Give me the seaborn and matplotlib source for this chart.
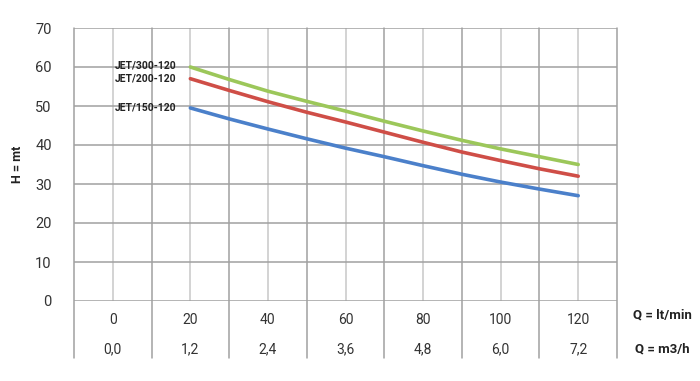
import numpy as np
import pandas as pd
import seaborn as sns
import matplotlib.pyplot as plt

# curve data
q_lmin = [20, 30, 40, 50, 60, 70, 80, 90, 100, 110, 120]
h_300 = [60.0, 56.8, 53.8, 51.2, 48.7, 46.1, 43.6, 41.2, 39.0, 37.0, 35.0]
h_200 = [57.0, 54.0, 51.1, 48.4, 45.9, 43.3, 40.7, 38.2, 36.0, 33.9, 32.0]
h_150 = [49.5, 46.7, 44.1, 41.6, 39.2, 37.0, 34.7, 32.5, 30.5, 28.7, 27.0]

models = ["JET/300-120", "JET/200-120", "JET/150-120"]
colors = ["#9CC75A", "#CF4E47", "#4B80CA"]

# table below the x axis
lmin_ticks = [0, 20, 40, 60, 80, 100, 120]
m3h_labels = ["0,0", "1,2", "2,4", "3,6", "4,8", "6,0", "7,2"]
y_ticks = [0, 10, 20, 30, 40, 50, 60, 70]

df = pd.concat([
    pd.DataFrame({"Q": q_lmin, "H": h, "model": m})
    for m, h in zip(models, [h_300, h_200, h_150])
])

sns.set_style("white")
plt.rcParams['font.family'] = ['Roboto', 'DejaVu Sans']

fig = plt.figure(figsize=(7, 3.81), dpi=100)
ax = fig.add_axes([74 / 700, 1 - 301 / 381, 543 / 700, 273 / 381])

grid_dark = "#A0A0A0"
grid_light = "#C8C8C8"

# light verticals at the flow labels, dark ones between them
for x in lmin_ticks:
    ax.axvline(x, color=grid_light, lw=1.1, zorder=0)
tab_bottom = -57 / 273
for x in np.arange(-10, 131, 20):
    ax.plot([x, x], [tab_bottom, 1], color=grid_dark, lw=1.1,
            transform=ax.get_xaxis_transform(), clip_on=False, zorder=0)
for y in y_ticks:
    ax.axhline(y, color=grid_dark, lw=1.1, zorder=0)

sns.lineplot(data=df, x="Q", y="H", hue="model", palette=colors,
             linewidth=2.6, legend=False, ax=ax)

for m, h, dy in zip(models, [h_300, h_200, h_150], [0.3, 0, 0]):
    ax.text(q_lmin[0] - 3.5, h[0] + dy, m, ha="right", va="center",
            fontsize=7.5, fontweight="bold", color="#222222")

ax.set_xlim(-10, 130)
ax.set_ylim(0, 70)
ax.set_yticks(y_ticks)
ax.set_yticklabels([str(v) for v in y_ticks], fontsize=10.5, color="#333333")
ax.tick_params(axis="y", length=0, pad=16)
ax.set_xticks([])
ax.set_xlabel("")
ax.set_ylabel("H = mt", fontsize=9, fontweight="bold", color="#222222", labelpad=8)
for s in ax.spines.values():
    s.set_visible(False)

row1 = -19 / 273
row2 = -48 / 273
for x, lab in zip(lmin_ticks, m3h_labels):
    ax.text(x, row1, str(x), ha="center", va="center", fontsize=10,
            color="#333333", transform=ax.get_xaxis_transform())
    ax.text(x, row2, lab, ha="center", va="center", fontsize=10,
            color="#333333", transform=ax.get_xaxis_transform())

fig.text(662 / 700, 1 - 315 / 381, "Q = lt/min", ha="center", va="center",
         fontsize=9.5, fontweight="bold", color="#222222")
fig.text(662 / 700, 1 - 349 / 381, "Q = m3/h", ha="center", va="center",
         fontsize=9.5, fontweight="bold", color="#222222")

fig.savefig("out.png", dpi=100)
